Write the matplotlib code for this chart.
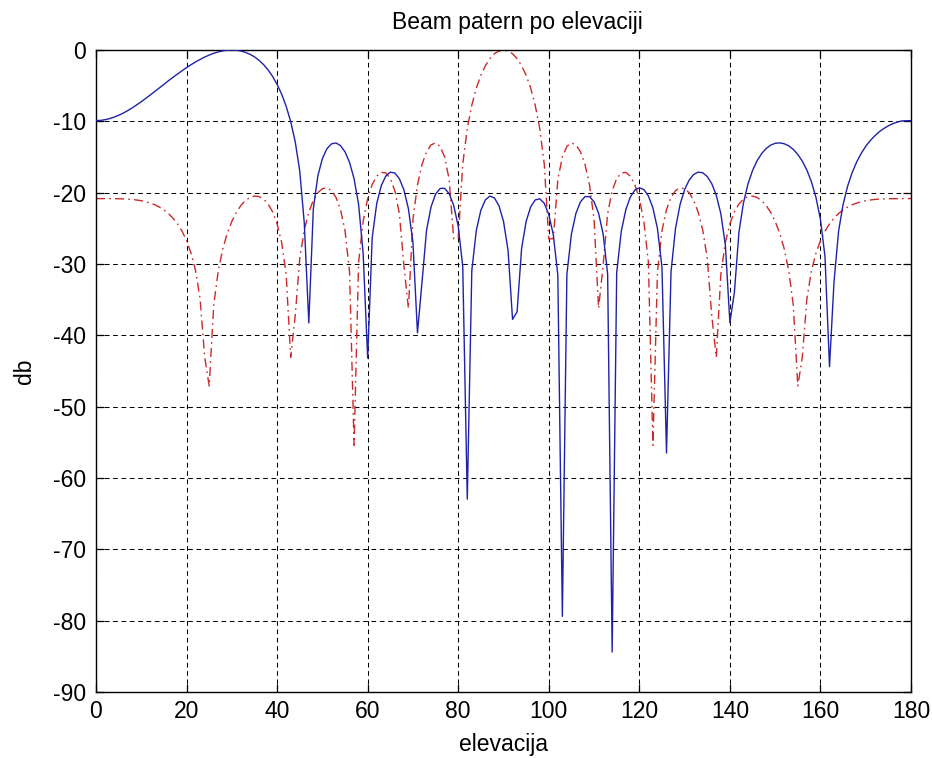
import numpy as np
import matplotlib
matplotlib.use("Agg")
import matplotlib.pyplot as plt

# ---- data ----
elevation = list(range(0, 181))  # degrees, one sample per degree

beam_30 = [  # blue solid curve, dB
    -9.90, -9.87, -9.77, -9.62, -9.41, -9.15, -8.85, -8.50, -8.11, -7.69,
    -7.25, -6.78, -6.30, -5.81, -5.31, -4.82, -4.31, -3.83, -3.37, -2.91,
    -2.47, -2.06, -1.67, -1.32, -0.99, -0.71, -0.46, -0.27, -0.12, -0.03,
    0.00, -0.03, -0.14, -0.33, -0.60, -0.96, -1.44, -2.04, -2.79, -3.70,
    -4.82, -6.19, -7.89, -10.04, -12.87, -16.96, -24.24, -38.26, -22.26, -17.64,
    -15.21, -13.84, -13.16, -13.03, -13.40, -14.28, -15.76, -18.05, -21.67, -28.49,
    -43.20, -26.33, -21.52, -19.02, -17.68, -17.13, -17.25, -18.04, -19.61, -22.26,
    -26.99, -39.64, -32.57, -25.30, -21.98, -20.21, -19.41, -19.39, -20.14, -21.78,
    -24.70, -30.35, -62.97, -30.93, -25.28, -22.47, -21.01, -20.48, -20.74, -21.84,
    -24.02, -28.06, -37.76, -36.70, -27.82, -24.02, -22.00, -21.02, -20.86, -21.49,
    -23.05, -25.90, -31.55, -79.40, -31.45, -25.80, -22.89, -21.29, -20.55, -20.55,
    -21.28, -22.88, -25.77, -31.40, -84.40, -31.22, -25.46, -22.42, -20.62, -19.65,
    -19.31, -19.57, -20.46, -22.14, -25.02, -30.45, -56.50, -31.08, -24.96, -21.65,
    -19.57, -18.24, -17.45, -17.12, -17.21, -17.74, -18.75, -20.37, -22.94, -27.33,
    -38.22, -33.94, -25.54, -21.43, -18.77, -16.90, -15.53, -14.53, -13.81, -13.34,
    -13.08, -13.02, -13.14, -13.44, -13.94, -14.64, -15.59, -16.83, -18.46, -20.64,
    -23.75, -28.92, -44.39, -32.47, -25.43, -21.65, -19.09, -17.19, -15.70, -14.50,
    -13.51, -12.70, -12.03, -11.46, -11.00, -10.63, -10.32, -10.10, -9.94, -9.92,
    -9.90,
]

beam_90 = [  # red dash-dot curve, dB
    -20.83, -20.83, -20.83, -20.83, -20.84, -20.85, -20.87, -20.90, -20.95, -21.03,
    -21.13, -21.27, -21.46, -21.70, -22.02, -22.42, -22.93, -23.57, -24.37, -25.40,
    -26.71, -28.51, -30.97, -34.91, -43.02, -47.11, -35.76, -30.95, -27.88, -25.68,
    -24.02, -22.75, -21.79, -21.11, -20.67, -20.48, -20.54, -20.89, -21.58, -22.68,
    -24.37, -26.98, -31.45, -43.08, -37.25, -29.21, -25.24, -22.73, -21.07, -20.01,
    -19.44, -19.33, -19.71, -20.66, -22.37, -25.33, -31.13, -55.42, -29.74, -24.01,
    -20.83, -18.85, -17.68, -17.15, -17.24, -18.02, -19.72, -22.95, -30.21, -36.21,
    -23.77, -18.90, -16.04, -14.27, -13.30, -13.02, -13.51, -14.99, -18.17, -26.45,
    -26.48, -15.99, -11.00, -7.73, -5.34, -3.55, -2.20, -1.21, -0.52, -0.13,
    0.00,
    -0.13, -0.52, -1.21, -2.20, -3.55, -5.34, -7.73, -11.00, -15.99, -26.48,
    -26.45, -18.17, -14.99, -13.51, -13.02, -13.30, -14.27, -16.04, -18.90, -23.77,
    -36.21, -30.21, -22.95, -19.72, -18.02, -17.24, -17.15, -17.68, -18.85, -20.83,
    -24.01, -29.74, -55.42, -31.13, -25.33, -22.37, -20.66, -19.71, -19.33, -19.44,
    -20.01, -21.07, -22.73, -25.24, -29.21, -37.25, -43.08, -31.45, -26.98, -24.37,
    -22.68, -21.58, -20.89, -20.54, -20.48, -20.67, -21.11, -21.79, -22.75, -24.02,
    -25.68, -27.88, -30.95, -35.76, -47.11, -43.02, -34.91, -30.97, -28.51, -26.71,
    -25.40, -24.37, -23.57, -22.93, -22.42, -22.02, -21.70, -21.46, -21.27, -21.13,
    -21.03, -20.95, -20.90, -20.87, -20.85, -20.84, -20.83, -20.83, -20.83, -20.83,
]

x_ticks = [0, 20, 40, 60, 80, 100, 120, 140, 160, 180]
y_ticks = [-90, -80, -70, -60, -50, -40, -30, -20, -10, 0]

title_text = "Beam patern po elevaciji"
x_label = "elevacija"
y_label = "db"

# ---- style ----
plt.rcParams["font.family"] = ["Liberation Sans", "DejaVu Sans"]
plt.rcParams["axes.unicode_minus"] = False

W, H = 932, 758
fig = plt.figure(figsize=(W / 100, H / 100), dpi=100)
fig.patch.set_facecolor("white")

left, right, top, bottom = 96, 911, 50, 692
ax = fig.add_axes([left / W, 1 - bottom / H, (right - left) / W, (bottom - top) / H])

ax.plot(elevation, beam_30, color="#1f22a8", linewidth=1.0, zorder=3)
ax.plot(elevation, beam_90, color="#cc2a2a", linewidth=1.0,
        linestyle=(0, (6.5, 3.0, 1.2, 3.0)), zorder=2)

ax.set_xlim(0, 180)
ax.set_ylim(-90, 0)
ax.set_xticks(x_ticks)
ax.set_yticks(y_ticks)
ax.set_xticklabels([str(v) for v in x_ticks])
ax.set_yticklabels([str(v) for v in y_ticks])

ax.grid(True, color="black", linewidth=0.75, linestyle=(0, (4.5, 3.5)), zorder=1)
ax.set_axisbelow(True)

for s in ax.spines.values():
    s.set_linewidth(1.0)
    s.set_color("black")

ax.tick_params(axis="both", direction="in", length=6, width=0.9,
               top=True, right=True, labelsize=16.5, colors="black", pad=6)
ax.tick_params(axis="y", pad=7)

fig.text(517 / W, 1 - 22 / H, title_text, ha="center", va="center", fontsize=16.5)
fig.text(503 / W, 1 - 745 / H, x_label, ha="center", va="center", fontsize=16.5)
fig.text(24 / W, 1 - 371 / H, y_label, ha="center", va="center", fontsize=16.5,
         rotation=90)

fig.savefig("out.png", dpi=100, facecolor="white")
